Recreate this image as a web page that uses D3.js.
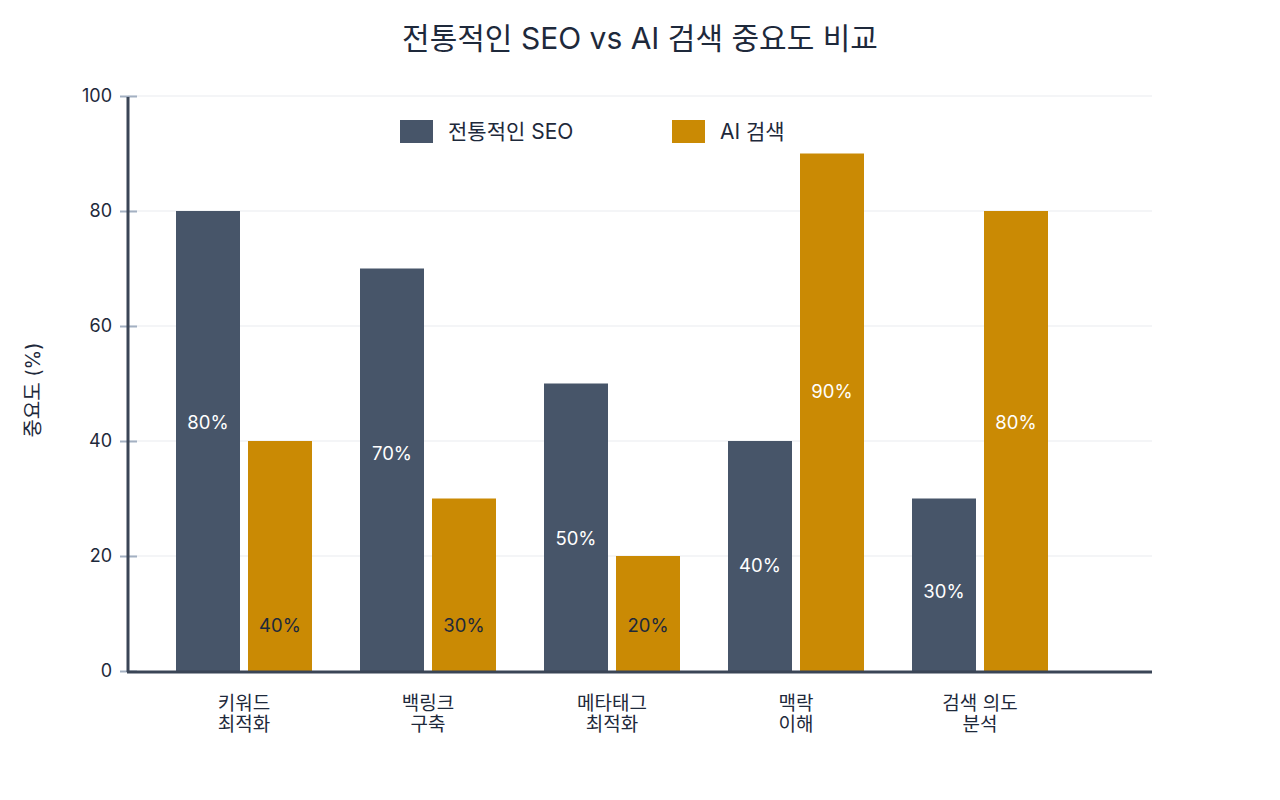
<!DOCTYPE html>
<html lang="ko">
<head>
<meta charset="utf-8">
<script src="https://cdn.jsdelivr.net/npm/d3@7"></script>
<style>
  body { margin: 0; background: #fff; }
  svg { font-family: "Inter", "Noto Sans CJK KR", sans-serif; }
</style>
</head>
<body>
<div id="chart"></div>
<script>
// data
const categories = ['키워드\n최적화', '백링크\n구축', '메타태그\n최적화', '맥락\n이해', '검색 의도\n분석'];
const seriesNames = ['전통적인 SEO', 'AI 검색'];
const traditionalSeo = [80, 70, 50, 40, 30];
const aiSearch = [40, 30, 20, 90, 80];
const yTicks = [0, 20, 40, 60, 80, 100];

const colors = ['#475569', '#ca8a04'];
const textColor = '#1e293b';

const width = 1280;
const height = 800;

const svg = d3.select('#chart').append('svg')
  .attr('width', width)
  .attr('height', height);

const rows = categories.map((c, i) => ({
  cat: c,
  values: [
    { key: seriesNames[0], value: traditionalSeo[i], s: 0 },
    { key: seriesNames[1], value: aiSearch[i], s: 1 },
  ],
}));

const xScale = d3.scaleBand()
  .domain(categories)
  .range([152, 1072])
  .paddingInner(48 / 184)
  .paddingOuter(24 / 184);

const xInner = d3.scaleBand()
  .domain(seriesNames)
  .range([0, xScale.bandwidth()])
  .paddingInner(8 / 72);

const yScale = d3.scaleLinear()
  .domain([0, 100])
  .range([671, 96]);

// gridlines
svg.append('g')
  .selectAll('line')
  .data(yTicks.filter((d) => d > 0))
  .join('line')
  .attr('x1', 128)
  .attr('x2', 1152)
  .attr('y1', (d) => yScale(d))
  .attr('y2', (d) => yScale(d))
  .attr('stroke', '#f1f2f4')
  .attr('stroke-width', 1.5);

// bars
const groups = svg.append('g')
  .selectAll('g')
  .data(rows)
  .join('g')
  .attr('transform', (d) => `translate(${xScale(d.cat)},0)`);

groups.selectAll('rect')
  .data((d) => d.values)
  .join('rect')
  .attr('x', (d) => xInner(d.key))
  .attr('width', xInner.bandwidth())
  .attr('y', (d) => yScale(d.value))
  .attr('height', (d) => yScale(0) - yScale(d.value))
  .attr('fill', (d) => colors[d.s]);

// value labels
groups.selectAll('text')
  .data((d) => d.values)
  .join('text')
  .attr('x', (d) => xInner(d.key) + xInner.bandwidth() / 2)
  .attr('y', (d) => {
    if (d.s === 1 && d.value < 50) return yScale(0) - 45;
    return yScale(d.value * (d.value >= 70 ? 0.54 : 0.46));
  })
  .attr('dy', '0.35em')
  .attr('text-anchor', 'middle')
  .style('font-size', '18.5px')
  .attr('fill', (d) => (d.s === 1 && d.value < 50 ? '#1e293b' : '#ffffff'))
  .text((d) => `${d.value}%`);

// y axis
const yAxisG = svg.append('g')
  .attr('transform', 'translate(128,0)')
  .call(d3.axisLeft(yScale).tickValues(yTicks).tickSize(0).tickPadding(16));
yAxisG.select('.domain').remove();
yAxisG.selectAll('text')
  .style('font-size', '18px')
  .style('font-family', '"Inter", "Noto Sans CJK KR", sans-serif')
  .attr('fill', textColor);
yAxisG.selectAll('.tick').append('line')
  .attr('x1', -8)
  .attr('x2', 9)
  .attr('stroke', '#a3b0c2')
  .attr('stroke-width', 2);

svg.append('line')
  .attr('x1', 128).attr('x2', 128)
  .attr('y1', yScale(100) + 1).attr('y2', yScale(0) + 1)
  .attr('stroke', '#3a4556')
  .attr('stroke-width', 3);

// x axis
svg.append('line')
  .attr('x1', 127).attr('x2', 1152)
  .attr('y1', yScale(0) + 1).attr('y2', yScale(0) + 1)
  .attr('stroke', '#3a4556')
  .attr('stroke-width', 3);

const catLabels = svg.append('g')
  .selectAll('text')
  .data(categories)
  .join('text')
  .attr('x', (d) => xScale(d) + xScale.bandwidth() / 2)
  .attr('y', 703)
  .attr('text-anchor', 'middle')
  .style('font-size', '19px')
  .attr('fill', textColor);

catLabels.selectAll('tspan')
  .data((d) => d.split('\n'))
  .join('tspan')
  .attr('x', function () { return d3.select(this.parentNode).attr('x'); })
  .attr('dy', (d, i) => (i === 0 ? '0.35em' : '1.1em'))
  .text((d) => d);

// y axis title
svg.append('text')
  .attr('transform', 'translate(33,390) rotate(-90)')
  .attr('text-anchor', 'middle')
  .attr('dy', '0.35em')
  .style('font-size', '20px')
  .attr('fill', textColor)
  .text('중요도 (%)');

// title
svg.append('text')
  .attr('x', 640)
  .attr('y', 38)
  .attr('dy', '0.35em')
  .attr('text-anchor', 'middle')
  .style('font-size', '30px')
  .attr('fill', textColor)
  .text('전통적인 SEO vs AI 검색 중요도 비교');

// legend
const legendX = [400, 672];
const legend = svg.append('g')
  .selectAll('g')
  .data(seriesNames)
  .join('g')
  .attr('transform', (d, i) => `translate(${legendX[i]},120)`);

legend.append('rect')
  .attr('width', 33)
  .attr('height', 23)
  .attr('fill', (d, i) => colors[i]);

legend.append('text')
  .attr('x', 48)
  .attr('y', 11.5)
  .attr('dy', '0.35em')
  .style('font-size', '21px')
  .attr('fill', textColor)
  .text((d) => d);
</script>
</body>
</html>
